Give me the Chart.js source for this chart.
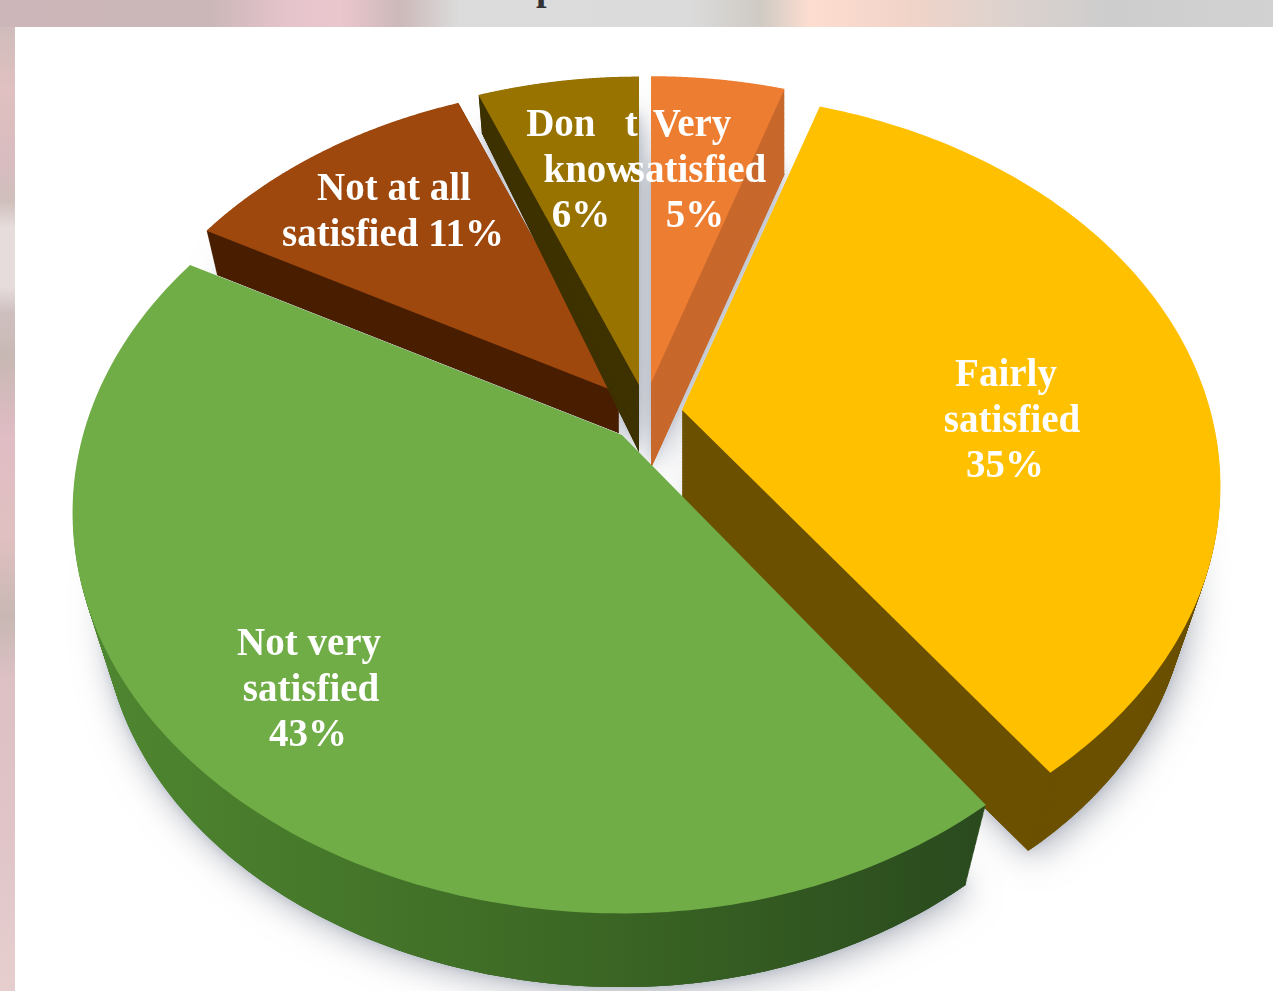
<!DOCTYPE html>
<html>
<head>
<meta charset="utf-8">
<title>Satisfaction</title>
<script src="https://cdn.jsdelivr.net/npm/chart.js@4"></script>
<style>
    html, body { margin: 0; padding: 0; width: 1273px; height: 991px; overflow: hidden; background: #d8d8d8; }
    #topStrip {
        position: absolute; left: 0; top: 0; width: 1273px; height: 27px; overflow: hidden;
        background: linear-gradient(90deg, #cdb6b9 0, #cbb7b8 210px, #e6c4cc 290px, #eac6cd 340px, #cdb9b9 400px,
            #dcdcdc 460px, #dbdbdb 690px, #cfcac4 760px, #fcddd0 810px, #f3d4c8 900px, #dcd2ce 1010px, #cdcdcd 1110px, #d2d2d2 1273px);
    }
    #leftStrip {
        position: absolute; left: 0; top: 27px; width: 15px; height: 964px;
        background: linear-gradient(180deg, #d0bcbc 0, #e0c0c0 60px, #d8bcc0 140px, #cfc0bc 175px, #e6dcdc 200px, #e6dcdc 260px,
            #cfc0c0 285px, #c8b8b4 330px, #e0bcc4 410px, #e0c0c0 510px, #c8b8b4 590px, #dcc0c4 650px, #e0c4c8 800px, #e6cece 964px);
    }
    #panel { position: absolute; left: 15px; top: 27px; width: 1258px; height: 964px; background: #fff; }
    #heading {
        position: absolute; left: 536px; top: -35px; font: bold 38px "Liberation Serif", serif; color: #333;
    }
    canvas { position: absolute; left: 0; top: 0; }
</style>
</head>
<body>
<div id="topStrip"><div id="heading">p</div></div>
<div id="leftStrip"></div>
<div id="panel"></div>
<canvas id="pie" width="1273" height="991"></canvas>
<script>
// Data
const categories = ['Very satisfied', 'Fairly satisfied', 'Not very satisfied', 'Not at all satisfied', "Don't know"];
const shares = [5, 35, 43, 11, 6];
const faceColors = ['#ed7d31', '#ffc000', '#70ad47', '#9e480e', '#997300'];
const labelLines = [
    ['Very', 'satisfied', '5%'],
    ['Fairly', 'satisfied', '35%'],
    ['Not very', 'satisfied', '43%'],
    ['Not at all', 'satisfied 11%'],
    ['Don   t', 'know', '6%']
];

// Look of the 3D view
const labelX = [[692, 698, 695], [1006, 1012, 1005], [309, 311, 308], [394, 393], [582, 589, 581]];
const labelY = [126, 376, 645, 190, 126];
const sideColors = ['#c8682c', '#6b5000', null, '#4a1f00', '#3f3200'];
const drawOrder = [3, 4, 0, 1, 2];
const places = [
    { x: 651, y: 383, size: 0.95, depth: 85, apex: 0, shrink: 0, trim: 0 },
    { x: 682, y: 410, size: 0.98, depth: 100, apex: 0, shrink: 0.06, trim: 0 },
    { x: 622, y: 435, size: 1, depth: 100, apex: 0, shrink: 0.055, trim: 25 },
    { x: 619, y: 393, size: 0.955, depth: 40, apex: 0, shrink: 0.025, trim: 0 },
    { x: 639, y: 385, size: 0.955, depth: 32, apex: 35, shrink: 0.02, trim: 0 }
];
const view = { wide: 539, tall: 385.6, tilt: 0.194 };
const shadows = [
    { color: 'rgba(110, 115, 130, 0.55)', blur: 34, dx: 4, dy: 6 },
    { color: 'rgba(150, 165, 190, 0.45)', blur: 10, dx: 0, dy: 0 }
];
const LAYERS = 70;

// Maps the flat pie onto the tilted view, layer 0 is the top face, layer 1 the underside
function makeProjection(arc, place, layer) {
    return (px, py) => {
        const u = (px - arc.x) / arc.outerRadius;
        const v = (py - arc.y) / arc.outerRadius;
        const w = 1 - view.tilt * v;
        const squeeze = place.size * (1 - place.shrink * layer);
        const drop = (place.depth + place.apex * Math.max(0, 1 + v / 0.12)) * layer;
        const trimmed = place.trim * Math.max(u, 0) * Math.max(v, 0);
        return {
            x: place.x + (view.wide * u / w - trimmed) * squeeze,
            y: place.y + view.tall * v / w * squeeze + drop
        };
    };
}

// Canvas context that sends every path point through the projection
function projectedContext(ctx, project, fill) {
    return new Proxy(ctx, {
        get(target, name) {
            if (name === 'moveTo' || name === 'lineTo') {
                return (x, y) => {
                    const p = project(x, y);
                    target[name](p.x, p.y);
                };
            }
            if (name === 'arc') {
                return (x, y, r, start, end) => {
                    for (let i = 0; i <= 80; i++) {
                        const a = start + (end - start) * i / 80;
                        const p = project(x + r * Math.cos(a), y + r * Math.sin(a));
                        target.lineTo(p.x, p.y);
                    }
                };
            }
            const value = target[name];
            return typeof value === 'function' ? value.bind(target) : value;
        },
        set(target, name, value) {
            target[name] = (name === 'fillStyle' && fill) ? fill : value;
            return true;
        }
    });
}

const pie3d = {
    id: 'pie3d',
    beforeDatasetsDraw(chart) {
        const ctx = chart.ctx;
        const arcs = chart.getDatasetMeta(0).data;

        const greenSide = ctx.createLinearGradient(100, 0, 985, 0);
        greenSide.addColorStop(0, '#4f8630');
        greenSide.addColorStop(0.5, '#3d6a25');
        greenSide.addColorStop(1, '#2a4a1e');

        // Soft shadow on the floor first, so it never falls on another slice
        shadows.forEach(shadow => {
            ctx.save();
            ctx.shadowColor = shadow.color;
            ctx.shadowBlur = shadow.blur;
            ctx.shadowOffsetX = shadow.dx;
            ctx.shadowOffsetY = shadow.dy;
            drawOrder.forEach(i => {
                arcs[i].draw(projectedContext(ctx, makeProjection(arcs[i], places[i], 1), sideColors[i] || greenSide));
            });
            ctx.restore();
        });

        drawOrder.forEach(i => {
            for (let n = LAYERS; n > 0; n--) {
                arcs[i].draw(projectedContext(ctx, makeProjection(arcs[i], places[i], n / LAYERS), sideColors[i] || greenSide));
            }
            arcs[i].draw(projectedContext(ctx, makeProjection(arcs[i], places[i], 0), null));
        });
        return false;
    },
    afterDraw(chart) {
        const ctx = chart.ctx;
        ctx.save();
        ctx.font = 'bold 39px "Liberation Serif", serif';
        ctx.fillStyle = '#fff';
        ctx.textAlign = 'center';
        ctx.textBaseline = 'middle';
        [3, 4, 0, 1, 2].forEach(i => {
            labelLines[i].forEach((line, n) => {
                ctx.fillText(line, labelX[i][n], labelY[i] + n * 45.5);
            });
        });
        ctx.restore();
    }
};

new Chart(document.getElementById('pie'), {
    type: 'pie',
    data: {
        labels: categories,
        datasets: [{
            data: shares,
            backgroundColor: faceColors,
            borderWidth: 0
        }]
    },
    options: {
        responsive: false,
        animation: false,
        plugins: {
            legend: { display: false },
            tooltip: { enabled: false }
        }
    },
    plugins: [pie3d]
});
</script>
</body>
</html>
